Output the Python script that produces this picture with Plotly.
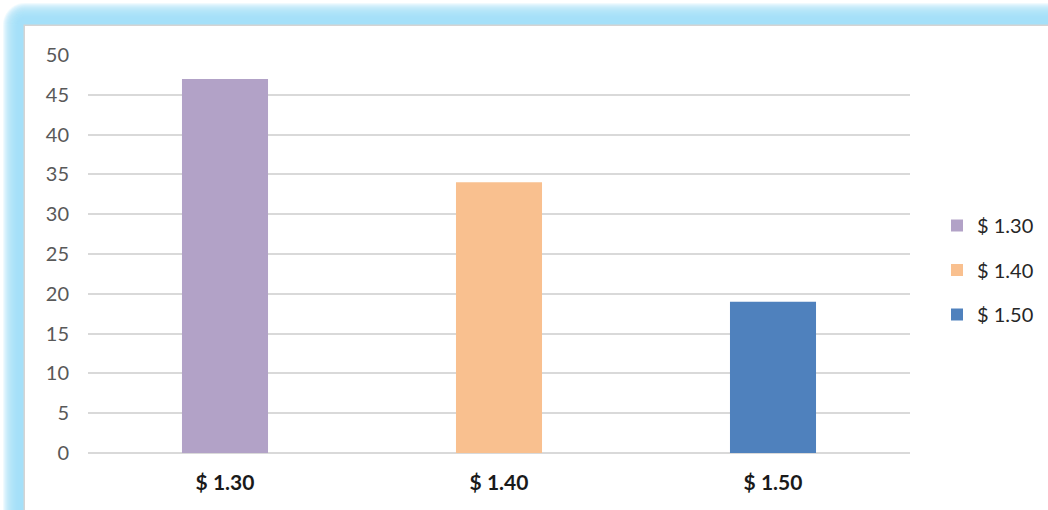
import math
import plotly.graph_objects as go

# Price points and counts
categories = ["$ 1.30", "$ 1.40", "$ 1.50"]
counts = [47, 34, 19]
bar_colors = ["#b2a2c7", "#f9c08f", "#4f81bd"]
y_ticks = list(range(0, 55, 5))

W, H = 1048, 510
ML, MR, MT, MB = 88, 138, 55, 57
PW, PH = W - ML - MR, H - MT - MB


def px_x(p):
    return (p - ML) / PW


def px_y(p):
    return (H - MB - p) / PH


def rounded_frame(inset_x, inset_y, radius, steps=10):
    """Path in paper coords: a frame whose top-left corner is rounded."""
    far_x, far_y = W + 20, H + 20
    pts = [(inset_x, far_y), (inset_x, inset_y + radius)]
    for i in range(1, steps):
        a = math.pi - (math.pi / 2) * i / steps
        pts.append((inset_x + radius + radius * math.cos(a),
                    inset_y + radius - radius * math.sin(a)))
    pts += [(inset_x + radius, inset_y), (far_x, inset_y), (far_x, far_y)]
    return "M" + " L".join(f"{px_x(x):.5f},{px_y(y):.5f}" for x, y in pts) + " Z"


shapes = []
# soft cyan glow along the top and left edges
n_layers = 16
for k in range(n_layers):
    inset = 3 + k
    shapes.append(dict(
        type="path", xref="paper", yref="paper", layer="below",
        path=rounded_frame(inset, inset, max(22 - k, 2)),
        fillcolor="#9fe3f6", opacity=0.16, line=dict(width=0),
    ))
# thin grey border and white chart area
shapes.append(dict(type="rect", xref="paper", yref="paper", layer="below",
                   x0=px_x(23.5), x1=px_x(W + 20), y0=px_y(H + 20), y1=px_y(24.5),
                   fillcolor="#d4d4d4", line=dict(width=0)))
shapes.append(dict(type="rect", xref="paper", yref="paper", layer="below",
                   x0=px_x(25), x1=px_x(W + 20), y0=px_y(H + 20), y1=px_y(26),
                   fillcolor="#ffffff", line=dict(width=0)))

fig = go.Figure()
for i, (cat, val, col) in enumerate(zip(categories, counts, bar_colors)):
    fig.add_trace(go.Bar(
        x=[cat], y=[val], name=cat, marker=dict(color=col, line=dict(width=0)),
        width=0.314, legendgroup=f"g{i}", hoverinfo="x+y",
    ))

fig.update_layout(
    width=W, height=H,
    margin=dict(l=ML, r=MR, t=MT, b=MB, autoexpand=False),
    paper_bgcolor="#ffffff", plot_bgcolor="rgba(0,0,0,0)",
    barmode="overlay",
    font=dict(family="Lato, Calibri, sans-serif", size=20, color="#595959"),
    shapes=shapes,
    showlegend=True,
    legend=dict(
        x=px_x(937), xanchor="left", y=px_y(270), yanchor="middle",
        font=dict(size=20, color="#262626"),
        traceorder="grouped", tracegroupgap=15.5,
        bgcolor="rgba(0,0,0,0)",
    ),
    xaxis=dict(
        categoryorder="array", categoryarray=categories,
        showgrid=False, showline=False, zeroline=False, ticks="",
        tickfont=dict(size=21, color="#1a1a1a", weight="bold"),
        ticklabelstandoff=15,
    ),
    yaxis=dict(
        range=[0, 50], tickvals=y_ticks,
        showgrid=True, gridcolor="#d9d9d9", gridwidth=1.5,
        zeroline=True, zerolinecolor="#d9d9d9", zerolinewidth=1.5,
        showline=False, ticks="",
        tickfont=dict(size=20, color="#595959"),
        ticklabelstandoff=18,
    ),
)

fig.write_html("out.html")
